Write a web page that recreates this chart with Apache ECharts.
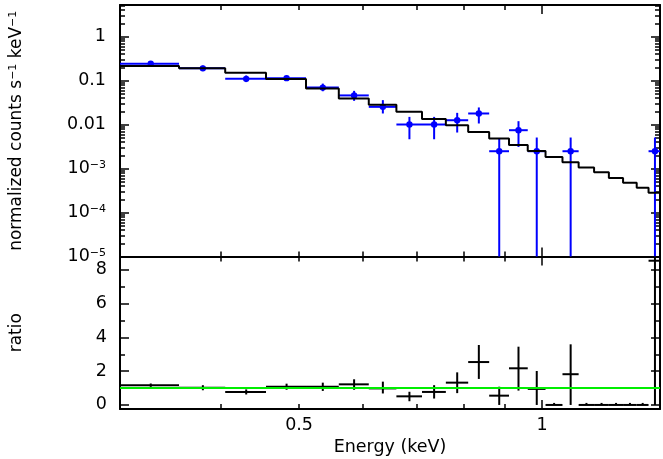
<!DOCTYPE html>
<html>
<head>
<meta charset="utf-8">
<title>spectrum ratio</title>
<script src="https://cdn.jsdelivr.net/npm/echarts@6/dist/echarts.min.js"></script>
<style>
  html, body { margin: 0; padding: 0; background: #fff; }
  #chart { width: 663px; height: 459px; }
</style>
</head>
<body>
<div id="chart"></div>
<script>
// energy bin edges (keV), 22 bins
var binEdges = [0.300, 0.355, 0.405, 0.455, 0.510, 0.560, 0.610, 0.660, 0.710, 0.760, 0.810,
                0.860, 0.910, 0.960, 1.010, 1.060, 1.110, 1.160, 1.210, 1.260, 1.310, 1.355, 1.405];

// folded model (normalized counts s^-1 keV^-1), one value per bin
var modelCounts = [0.213, 0.189, 0.150, 0.108, 0.0661, 0.0391, 0.0280, 0.0194, 0.0134, 0.00964, 0.00678,
                   0.00480, 0.00343, 0.00250, 0.00183, 0.00138, 0.00105, 0.000819, 0.000607, 0.000477, 0.000367, 0.000282];

// data points and error bars, 0 = empty bin / error going off the axis
var dataCounts = [0.240, 0.189, 0.109, 0.113, 0.069, 0.0458, 0.0252, 0.0100, 0.0100, 0.0125, 0.0178,
                  0.00247, 0.00742, 0.00247, 0, 0.00247, 0, 0, 0, 0, 0, 0.00247];
var dataLow    = [0.213, 0.164, 0.092, 0.099, 0.057, 0.0345, 0.0178, 0.00462, 0.00462, 0.00657, 0.01054,
                  0, 0.00309, 0, 0, 0, 0, 0, 0, 0, 0, 0];
var dataHigh   = [0.270, 0.218, 0.130, 0.128, 0.085, 0.0582, 0.0358, 0.0149, 0.0149, 0.0184, 0.0244,
                  0.0048, 0.0119, 0.00506, 0, 0.00506, 0, 0, 0, 0, 0, 0.00506];

// data / model ratio
var ratioVals  = [1.17, 1.02, 0.77, 1.08, 1.08, 1.22, 0.98, 0.51, 0.77, 1.32, 2.54,
                  0.55, 2.17, 0.95, 0, 1.82, 0, 0, 0, 0, 0, 8.54];
var ratioLow   = [1.07, 0.87, 0.62, 0.90, 0.83, 0.90, 0.68, 0.22, 0.38, 0.70, 1.54,
                  0, 0.85, 0, 0, 0, 0, 0, 0, 0, 0, 0];
var ratioHigh  = [1.27, 1.17, 0.92, 1.26, 1.32, 1.52, 1.38, 0.78, 1.17, 1.93, 3.55,
                  1.08, 3.45, 2.01, 0.12, 3.59, 0.12, 0.12, 0.12, 0.12, 0.12, 17.9];

// ticks and labels
var energyMajorTicks = [1];
var energyMinorTicks = [0.4, 0.5, 0.6, 0.7, 0.8, 0.9];
var energyLabels = [0.5, 1];
var countsMajorTicks = [1e-5, 1e-4, 1e-3, 0.01, 0.1, 1];
var ratioMajorTicks = [0, 2, 4, 6, 8];
var ratioMinorTicks = [1, 3, 5, 7];

var FONT = 'DejaVu Sans';
var E_MIN = 0.3, E_MAX = 1.4;
var C_MIN = 1e-5, C_MAX = 5.2;
var R_MIN = -0.24, R_MAX = 8.79;

// 2..9 x each decade for the log axis
var countsMinorTicks = [];
for (var ex = -5; ex <= 0; ex++) {
	for (var k = 2; k <= 9; k++) {
		var t = k * Math.pow(10, ex);
		if (t < C_MAX) countsMinorTicks.push(t);
	}
}

function tickAxis(type, grid, pos, min, max, ticks, len, showLine) {
	return {
		type: type,
		gridIndex: grid,
		position: pos,
		min: min,
		max: max,
		axisLine: { show: showLine, onZero: false, lineStyle: { color: '#000', width: 2 } },
		axisTick: { show: true, inside: true, length: len, customValues: ticks, lineStyle: { color: '#000', width: 1.5 } },
		axisLabel: { show: false },
		splitLine: { show: false },
		minorTick: { show: false },
		axisPointer: { show: false }
	};
}

var xAxes = [
	tickAxis('log', 0, 'bottom', E_MIN, E_MAX, energyMajorTicks, 9, true),
	tickAxis('log', 0, 'top', E_MIN, E_MAX, energyMajorTicks, 9, true),
	tickAxis('log', 0, 'bottom', E_MIN, E_MAX, energyMinorTicks, 5, false),
	tickAxis('log', 0, 'top', E_MIN, E_MAX, energyMinorTicks, 5, false),
	tickAxis('log', 1, 'bottom', E_MIN, E_MAX, energyMajorTicks, 9, true),
	tickAxis('log', 1, 'top', E_MIN, E_MAX, energyMajorTicks, 9, true),
	tickAxis('log', 1, 'bottom', E_MIN, E_MAX, energyMinorTicks, 5, false),
	tickAxis('log', 1, 'top', E_MIN, E_MAX, energyMinorTicks, 5, false)
];
xAxes[4].axisLabel = {
	show: true, customValues: energyLabels, margin: 7,
	color: '#000', fontFamily: FONT, fontSize: 17.5,
	formatter: function (v) { return String(v); }
};
xAxes[4].name = 'Energy (keV)';
xAxes[4].nameLocation = 'middle';
xAxes[4].nameGap = 29;
xAxes[4].nameTextStyle = { color: '#000', fontFamily: FONT, fontSize: 17.5 };

var yAxes = [
	tickAxis('log', 0, 'left', C_MIN, C_MAX, countsMajorTicks, 9, true),
	tickAxis('log', 0, 'right', C_MIN, C_MAX, countsMajorTicks, 9, true),
	tickAxis('log', 0, 'left', C_MIN, C_MAX, countsMinorTicks, 5, false),
	tickAxis('log', 0, 'right', C_MIN, C_MAX, countsMinorTicks, 5, false),
	tickAxis('value', 1, 'left', R_MIN, R_MAX, ratioMajorTicks, 9, true),
	tickAxis('value', 1, 'right', R_MIN, R_MAX, ratioMajorTicks, 9, true),
	tickAxis('value', 1, 'left', R_MIN, R_MAX, ratioMinorTicks, 5, false),
	tickAxis('value', 1, 'right', R_MIN, R_MAX, ratioMinorTicks, 5, false)
];
yAxes[0].axisLabel = {
	show: true, customValues: countsMajorTicks, margin: 14,
	color: '#000', fontFamily: FONT, fontSize: 17.5,
	formatter: function (v) {
		if (v >= 0.01) return String(v);
		return '{b|10}{s|\u2212' + Math.round(-Math.log10(v)) + '}';
	},
	rich: {
		b: { color: '#000', fontFamily: FONT, fontSize: 17.5 },
		s: { color: '#000', fontFamily: FONT, fontSize: 11, verticalAlign: 'top' }
	}
};
yAxes[0].name = '{a|normalized counts s}{s|\u22121}{a| keV}{s|\u22121}';
yAxes[0].nameLocation = 'middle';
yAxes[0].nameGap = 95;
yAxes[0].nameTextStyle = {
	color: '#000', fontFamily: FONT, fontSize: 17,
	rich: {
		a: { color: '#000', fontFamily: FONT, fontSize: 17 },
		s: { color: '#000', fontFamily: FONT, fontSize: 11, verticalAlign: 'top' }
	}
};
yAxes[4].axisLabel = {
	show: true, customValues: ratioMajorTicks, margin: 13,
	color: '#000', fontFamily: FONT, fontSize: 17.5
};
yAxes[4].name = 'ratio';
yAxes[4].nameLocation = 'middle';
yAxes[4].nameGap = 95;
yAxes[4].nameTextStyle = { color: '#000', fontFamily: FONT, fontSize: 17 };

// error bar items: [centre, value, binLow, binHigh, errLow, errHigh]
var countItems = [], ratioItems = [];
for (var i = 0; i < modelCounts.length; i++) {
	var xc = (binEdges[i] + binEdges[i + 1]) / 2;
	if (dataCounts[i] > 0) {
		countItems.push([xc, dataCounts[i], binEdges[i], binEdges[i + 1], dataLow[i], dataHigh[i]]);
	}
	ratioItems.push([xc, ratioVals[i], binEdges[i], binEdges[i + 1], ratioLow[i], ratioHigh[i]]);
}

// model histogram as a step line
var modelLine = binEdges.map(function (e, i) {
	return [e, modelCounts[Math.min(i, modelCounts.length - 1)]];
});

function errorBars(color, withDot) {
	return function (params, api) {
		var cs = params.coordSys;
		var left = cs.x, right = cs.x + cs.width, top = cs.y, bottom = cs.y + cs.height;
		function pt(x, y) {
			var p = api.coord([x, y]);
			var px = isFinite(p[0]) ? Math.min(Math.max(p[0], left), right) : left;
			var py = isFinite(p[1]) ? Math.min(Math.max(p[1], top), bottom) : bottom;
			return [px, py];
		}
		var xc = api.value(0), y = api.value(1);
		var a = pt(api.value(2), y), b = pt(api.value(3), y);
		var lo = pt(xc, api.value(4)), hi = pt(xc, api.value(5));
		var st = { stroke: color, lineWidth: 2 };
		var children = [
			{ type: 'line', shape: { x1: a[0], y1: a[1], x2: b[0], y2: b[1] }, style: st },
			{ type: 'line', shape: { x1: lo[0], y1: lo[1], x2: hi[0], y2: hi[1] }, style: st }
		];
		if (withDot) {
			var c = pt(xc, y);
			children.push({ type: 'circle', shape: { cx: c[0], cy: c[1], r: 3.2 }, style: { fill: color } });
		}
		return { type: 'group', children: children };
	};
}

var chart = echarts.init(document.getElementById('chart'));
chart.setOption({
	animation: false,
	backgroundColor: '#fff',
	grid: [
		{ left: 120, right: 3, top: 5, height: 251.5, outerBoundsMode: 'none', containLabel: false },
		{ left: 120, right: 3, top: 256.5, bottom: 50, outerBoundsMode: 'none', containLabel: false }
	],
	xAxis: xAxes,
	yAxis: yAxes,
	series: [
		{
			name: 'data',
			type: 'custom',
			xAxisIndex: 0,
			yAxisIndex: 0,
			renderItem: errorBars('#0000ff', true),
			data: countItems,
			silent: true,
			z: 2
		},
		{
			name: 'model',
			type: 'line',
			xAxisIndex: 0,
			yAxisIndex: 0,
			step: 'end',
			symbol: 'none',
			data: modelLine,
			lineStyle: { color: '#000', width: 2 },
			silent: true,
			z: 3
		},
		{
			name: 'ratio',
			type: 'custom',
			xAxisIndex: 4,
			yAxisIndex: 4,
			renderItem: errorBars('#000', false),
			data: ratioItems,
			silent: true,
			z: 2
		},
		{
			name: 'unity',
			type: 'line',
			xAxisIndex: 4,
			yAxisIndex: 4,
			symbol: 'none',
			data: [[E_MIN, 1], [E_MAX, 1]],
			lineStyle: { color: '#00ee00', width: 2 },
			silent: true,
			z: 3
		}
	]
});
</script>
</body>
</html>
